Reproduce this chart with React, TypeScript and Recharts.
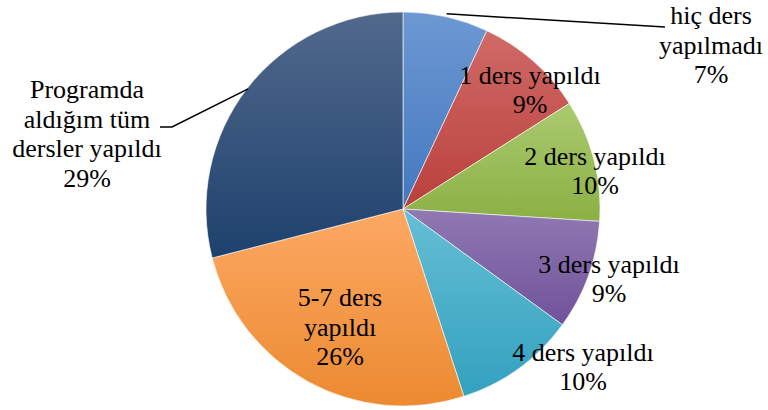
import React from "react";
import { PieChart, Pie, Cell } from "recharts";

const categories = [
  "hiç ders yapılmadı",
  "1 ders yapıldı",
  "2 ders yapıldı",
  "3 ders yapıldı",
  "4 ders yapıldı",
  "5-7 ders yapıldı",
  "Programda aldığım tüm dersler yapıldı",
];
const values = [7, 9, 10, 9, 10, 26, 29];

// label text lines (name part), percentage added below
const labelLines = [
  ["hiç ders", "yapılmadı"],
  ["1 ders yapıldı"],
  ["2 ders yapıldı"],
  ["3 ders yapıldı"],
  ["4 ders yapıldı"],
  ["5-7 ders", "yapıldı"],
  ["Programda", "aldığım tüm", "dersler yapıldı"],
];

// gradient colours, top -> bottom
const gradients = [
  ["#6d98d2", "#4378c0"],
  ["#d06a67", "#b9403c"],
  ["#abca70", "#8bb043"],
  ["#9079b3", "#70529a"],
  ["#66bed4", "#32a1bf"],
  ["#fca864", "#ec8a30"],
  ["#52698c", "#1d416d"],
];

// label centre offsets from pie centre
const labelOffsets = [
  { dx: 308, dy: -164 },
  { dx: 127, dy: -119 },
  { dx: 192, dy: -38 },
  { dx: 206, dy: 70 },
  { dx: 180, dy: 158 },
  { dx: -63, dy: 118 },
  { dx: -316, dy: -75 },
];

const data = categories.map((name, i) => ({ name, value: values[i] }));

const RAD = Math.PI / 180;
const FONT = 26;
const LH = 29.5;
const SERIF = "Liberation Serif";

function renderLabel(props: any) {
  const { cx, cy, midAngle, outerRadius, index, percent } = props;
  const off = labelOffsets[index];
  const lines = [...labelLines[index], Math.round(percent * 100) + "%"];
  const x = cx + off.dx;
  const y = cy + off.dy;
  const n = lines.length;
  let leader: React.ReactNode = null;
  if (index === 0) {
    const sx = cx + (outerRadius + 3) * Math.cos(-midAngle * RAD);
    const sy = cy + (outerRadius + 3) * Math.sin(-midAngle * RAD);
    leader = (
      <polyline
        points={`${sx},${sy} ${x - 46},${y - 18}`}
        fill="none"
        stroke="#000"
        strokeWidth={1.5}
      />
    );
  }
  if (index === 6) {
    const sx = cx + (outerRadius - 1) * Math.cos(-midAngle * RAD);
    const sy = cy + (outerRadius - 1) * Math.sin(-midAngle * RAD);
    leader = (
      <polyline
        points={`${sx},${sy} ${x + 85},${y - 7} ${x + 73},${y - 7}`}
        fill="none"
        stroke="#000"
        strokeWidth={1.5}
      />
    );
  }
  return (
    <g>
      {leader}
      <text
        x={x}
        y={y}
        textAnchor="middle"
        fill="#000"
        fontFamily={SERIF}
        fontSize={FONT}
        style={{ fontFamily: SERIF }}
      >
        {lines.map((t, i) => (
          <tspan key={i} x={x} y={y + (i - (n - 1) / 2) * LH + FONT * 0.33} fontFamily={SERIF}>
            {t}
          </tspan>
        ))}
      </text>
    </g>
  );
}

export default function App() {
  return (
    <div style={{ position: "absolute", left: 0, top: 0, width: 768, height: 410, background: "#fff" }}>
      <PieChart width={768} height={410} margin={{ top: 0, right: 0, bottom: 0, left: 0 }}>
        <defs>
          {gradients.map((g, i) => (
            <linearGradient key={i} id={`grad${i}`} x1="0" y1="0" x2="0" y2="1">
              <stop offset="0%" stopColor={g[0]} />
              <stop offset="100%" stopColor={g[1]} />
            </linearGradient>
          ))}
        </defs>
        <Pie
          data={data}
          dataKey="value"
          nameKey="name"
          cx={403}
          cy={209}
          outerRadius={197}
          startAngle={90}
          endAngle={-270}
          stroke="#ffffff"
          strokeWidth={0.6}
          label={renderLabel}
          labelLine={false}
          isAnimationActive={false}
        >
          {data.map((d, i) => (
            <Cell key={d.name} fill={`url(#grad${i})`} />
          ))}
        </Pie>
      </PieChart>
    </div>
  );
}
